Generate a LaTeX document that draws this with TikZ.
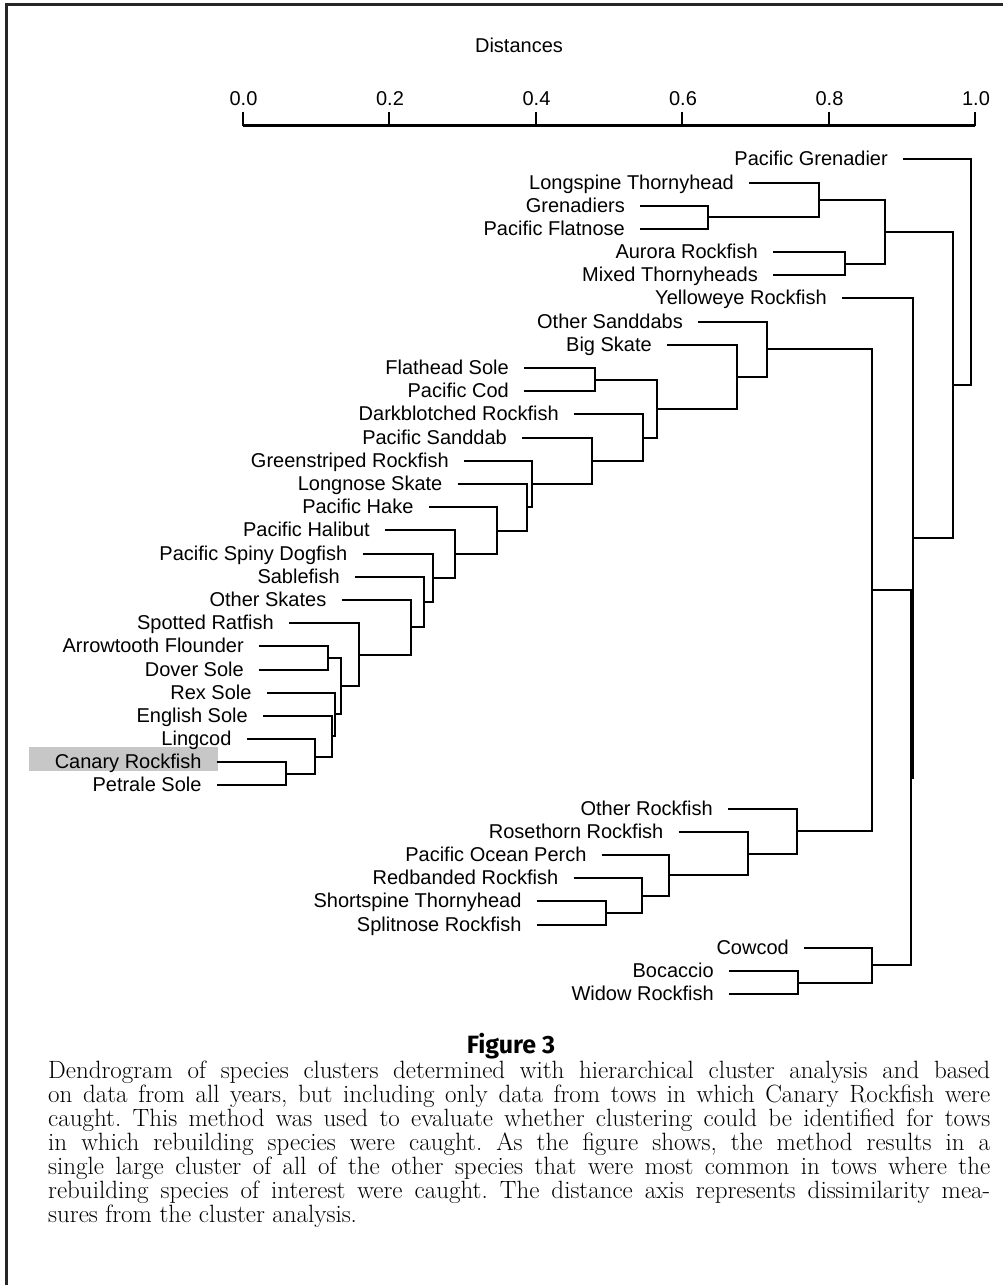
\documentclass[tikz,border=0pt]{standalone}
\usepackage{fontspec}
\newfontfamily\labfont{Liberation Sans}
\newfontfamily\figfont{Fira Sans}
\frenchspacing
\begin{document}
\begin{tikzpicture}[x=1pt,y=-1pt,
  lab/.style={anchor=base east,inner sep=0pt,font=\labfont\fontsize{20}{24}\selectfont},
  dl/.style={line width=2pt,black},
  axisline/.style={line width=2.2pt,black},
  capline/.style={anchor=base west,inner sep=0pt,font=\fontsize{25}{24}\selectfont\addfontfeatures{FakeStretch=1.2}}]
\useasboundingbox (0,0) rectangle (1003,1285);
% frame
\draw[line width=2.5pt,black!85] (6.5,1285) -- (6.5,4.5) -- (1003,4.5);
% highlight
\fill[black!22] (28.7,746.7) rectangle (218,770.7);
% axis
\node[inner sep=0pt,font=\labfont\fontsize{20}{24}\selectfont] (dist) at (519,45) {Distances};
\foreach \k/\v in {0/0.0,1/0.2,2/0.4,3/0.6,4/0.8,5/1.0}{
  \coordinate (t\k) at ({242.5+146.5*\k},125.5);
  \coordinate (u\k) at ({242.5+146.5*\k},111.5);
  \draw[line width=2pt] (t\k) -- (u\k);
  \node[inner sep=0pt,font=\labfont\fontsize{20}{24}\selectfont] (tl\k) at ({243.5+146.5*\k},98.5) {\v};
}
\draw[axisline] (t0) -- (t5);
% leaves
\foreach \i/\y/\xs/\t in {
1/159.3/903/Pacific Grenadier,
2/182.5/749/Longspine Thornyhead,
3/205.7/640/Grenadiers,
4/228.9/640/Pacific Flatnose,
5/252.1/773/Aurora Rockfish,
6/275.3/773/Mixed Thornyheads,
7/298.4/842/Yelloweye Rockfish,
8/321.6/698/Other Sanddabs,
9/344.8/667/Big Skate,
10/368.0/524/Flathead Sole,
11/391.2/524/Pacific Cod,
12/414.4/574/Darkblotched Rockfish,
13/437.6/522/Pacific Sanddab,
14/460.8/464/Greenstriped Rockfish,
15/484.0/457.6/Longnose Skate,
16/507.2/428.6/Pacific Hake,
17/530.3/385/Pacific Halibut,
18/553.5/362.5/Pacific Spiny Dogfish,
19/576.7/355/Sablefish,
20/599.9/341.5/Other Skates,
21/623.1/289/Spotted Ratfish,
22/646.3/259/Arrowtooth Flounder,
23/669.5/259/Dover Sole,
24/692.7/266.7/Rex Sole,
25/715.9/263/English Sole,
26/739.1/246.7/Lingcod,
27/762.3/216.7/Canary Rockfish,
28/785.4/216.7/Petrale Sole,
29/808.6/728/Other Rockfish,
30/831.8/678.6/Rosethorn Rockfish,
31/855.0/601.7/Pacific Ocean Perch,
32/878.2/573.5/Redbanded Rockfish,
33/901.4/536.7/Shortspine Thornyhead,
34/924.6/536.7/Splitnose Rockfish,
35/947.8/804/Cowcod,
36/971.0/729/Bocaccio,
37/994.2/729/Widow Rockfish}{
  \coordinate (p\i) at (\xs,\y);
  \node[lab] (l\i) at (\xs-15,\y+6.5) {\t};
}
% merge points
\coordinate (m1) at (708,217.3);
\coordinate (m2) at (818.5,199.9);
\coordinate (m3) at (844.5,263.7);
\coordinate (m4) at (885,231.8);
\coordinate (m5) at (594.6,379.6);
\coordinate (m6) at (285.7,773.85);
\coordinate (m7) at (315,756.5);
\coordinate (m8) at (331.7,736.2);
\coordinate (m9) at (335,714.45);
\coordinate (m10) at (328,657.9);
\coordinate (m11) at (340.7,686.2);
\coordinate (m12) at (359.2,654.65);
\coordinate (m13) at (410.5,627.3);
\coordinate (m14) at (424,602.0);
\coordinate (m15) at (433,577.75);
\coordinate (m16) at (455.4,554.0);
\coordinate (m17) at (497,530.6);
\coordinate (m18) at (526.8,507.3);
\coordinate (m19) at (532,484.05);
\coordinate (m20) at (591.5,460.8);
\coordinate (m21) at (642.9,437.6);
\coordinate (m22) at (657,408.6);
\coordinate (m23) at (736.5,376.7);
\coordinate (m24) at (766.7,349.15);
\coordinate (m25) at (605.8,913.0);
\coordinate (m26) at (641.7,895.6);
\coordinate (m27) at (669.4,875.3);
\coordinate (m28) at (747.7,853.55);
\coordinate (m29) at (796.5,831.1);
\coordinate (m30) at (872.2,590.1);
\coordinate (m31) at (798.4,982.6);
\coordinate (m32) at (872.2,965.2);
\coordinate (m33) at (910.5,777.65);
\coordinate (m34) at (912.5,538.0);
\coordinate (m35) at (952.8,384.9);
\coordinate (m36) at (970.8,272.1);
% brackets
\foreach \m/\a/\b in {
m1/p3/p4, m2/p2/m1, m3/p5/p6, m4/m2/m3,
m5/p10/p11, m6/p27/p28, m7/p26/m6, m8/p25/m7, m9/p24/m8,
m10/p22/p23, m11/m10/m9, m12/p21/m11, m13/p20/m12, m14/p19/m13,
m15/p18/m14, m16/p17/m15, m17/p16/m16, m18/p15/m17, m19/p14/m18,
m20/p13/m19, m21/p12/m20, m22/m5/m21, m23/p9/m22, m24/p8/m23,
m25/p33/p34, m26/p32/m25, m27/p31/m26, m28/p30/m27, m29/p29/m28,
m30/m24/m29, m31/p36/p37, m32/p35/m31, m33/m30/m32, m34/p7/m33,
m35/m4/m34, m36/p1/m35}{
  \draw[dl] (\a) -| (\m) |- (\b);
}
% caption
\node[inner sep=0pt,font=\figfont\bfseries\fontsize{25}{28}\selectfont] (fig) at (511,1046) {Figure 3};
\node[capline] (c1) at (48,1078) {\makebox[942pt][s]{Dendrogram of species clusters determined with hierarchical cluster analysis and based}};
\node[capline] (c2) at (48,1102) {\makebox[942pt][s]{on data from all years, but including only data from tows in which Canary Rockfish were}};
\node[capline] (c3) at (48,1126) {\makebox[942pt][s]{caught. This method was used to evaluate whether clustering could be identified for tows}};
\node[capline] (c4) at (48,1150) {\makebox[942pt][s]{in which rebuilding species were caught. As the figure shows, the method results in a}};
\node[capline] (c5) at (48,1174) {\makebox[942pt][s]{single large cluster of all of the other species that were most common in tows where the}};
\node[capline] (c6) at (48,1198) {\makebox[942pt][s]{rebuilding species of interest were caught. The distance axis represents dissimilarity mea-}};
\node[capline] (c7) at (48,1222) {sures from the cluster analysis.};
\end{tikzpicture}
\end{document}
